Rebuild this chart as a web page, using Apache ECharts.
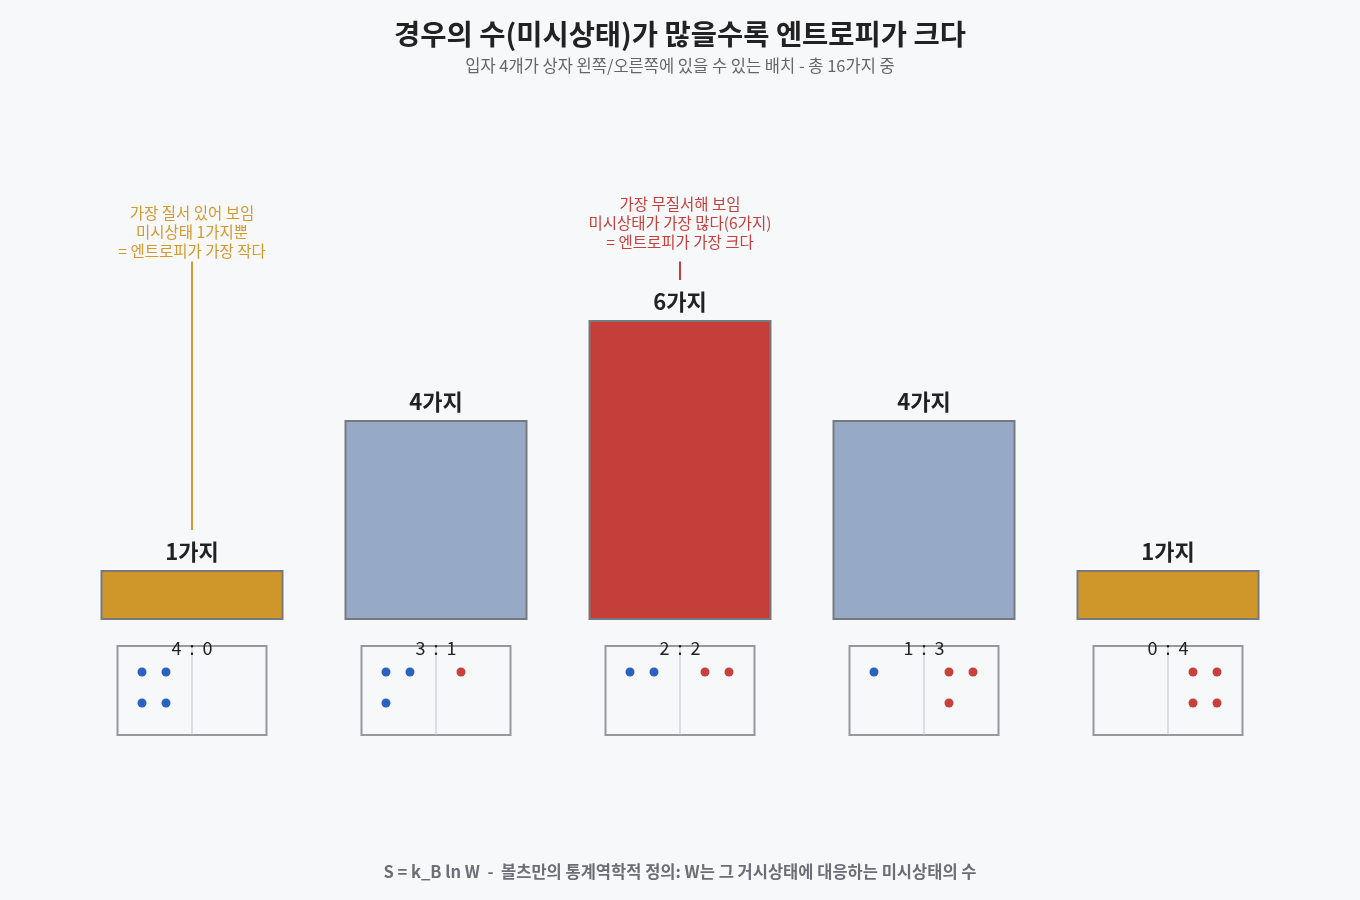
<!DOCTYPE html>
<html>
<head>
<meta charset="utf-8">
<script src="https://cdn.jsdelivr.net/npm/echarts@6/dist/echarts.min.js"></script>
<style>
html,body{margin:0;padding:0;background:#f7f8fa;}
#c{width:1360px;height:900px;}
</style>
</head>
<body>
<div id="c"></div>
<script>
// ---- data ----
const categories = ['4 : 0', '3 : 1', '2 : 2', '1 : 3', '0 : 4'];
const microstates = [1, 4, 6, 4, 1];
const leftCounts = [4, 3, 2, 1, 0];
const rightCounts = [0, 1, 2, 3, 4];
const barLabels = ['1가지', '4가지', '6가지', '4가지', '1가지'];
const annotationIndex = [0, 2];
const annotationTexts = [
  '가장 질서 있어 보임\n미시상태 1가지뿐\n= 엔트로피가 가장 작다',
  '가장 무질서해 보임\n미시상태가 가장 많다(6가지)\n= 엔트로피가 가장 크다'
];
const titleText = '경우의 수(미시상태)가 많을수록 엔트로피가 크다';
const subtitleText = '입자 4개가 상자 왼쪽/오른쪽에 있을 수 있는 배치 - 총 16가지 중';
const footerText = 'S = k_B ln W  -  볼츠만의 통계역학적 정의: W는 그 거시상태에 대응하는 미시상태의 수';

// ---- styles ----
const FONT = '"Noto Sans CJK KR", "Noto Sans", sans-serif';
const barColors = ['#cf9629', '#96aac7', '#c43e3a', '#96aac7', '#cf9629'];
const annColors = ['#d4992e', '#c8403c'];
const annTextGap = [10, 19];
const BLUE = '#2b62c0', RED = '#c8403c';

const chart = echarts.init(document.getElementById('c'));

const annData = annotationIndex.map((idx, k) => ({
  value: [idx, microstates[idx], k]
}));

chart.setOption({
  backgroundColor: '#f7f8fa',
  animation: false,
  title: [
    { text: titleText, left: 'center', top: 15,
      textStyle: { fontFamily: FONT, fontSize: 28.5, fontWeight: 'bold', color: '#222' } },
    { text: subtitleText, left: 'center', top: 52,
      textStyle: { fontFamily: FONT, fontSize: 16.5, fontWeight: 'normal', color: '#666' } },
    { text: footerText, left: 'center', top: 858,
      textStyle: { fontFamily: FONT, fontSize: 16.5, fontWeight: 'bold', color: '#6b6e75' } }
  ],
  grid: { left: 70, right: 70, top: 220, bottom: 280 },
  xAxis: { type: 'category', data: categories, show: false },
  yAxis: { type: 'value', min: 0, max: 8, show: false },
  series: [
    {
      type: 'bar',
      data: microstates.map((v, i) => ({
        value: v,
        itemStyle: { color: barColors[i] },
        label: { formatter: barLabels[i] }
      })),
      barWidth: '75%',
      itemStyle: { borderColor: '#77797d', borderWidth: 2 },
      label: {
        show: true, position: 'top', distance: 7,
        fontFamily: FONT, fontSize: 22, fontWeight: 'bold', color: '#222'
      }
    },
    {
      type: 'custom',
      data: categories.map((c, i) => [i, 0]),
      renderItem: function (params, api) {
        const i = api.value(0);
        const p = api.coord([i, 0]);
        const cx = p[0], y0 = p[1];
        const bx = cx - 74.5, by = y0 + 26, bw = 149, bh = 89;
        const children = [
          { type: 'rect', shape: { x: bx, y: by, width: bw, height: bh },
            style: { fill: 'none', stroke: '#97989e', lineWidth: 2 } },
          { type: 'line', shape: { x1: cx, y1: by, x2: cx, y2: by + bh },
            style: { stroke: '#c2c3c9', lineWidth: 1 } }
        ];
        const slots = [[0, 0], [1, 0], [0, 1], [1, 1]];
        for (let k = 0; k < leftCounts[i]; k++) {
          const s = slots[k];
          children.push({ type: 'circle',
            shape: { cx: cx - 50 + s[0] * 24, cy: y0 + 52 + s[1] * 31, r: 4.5 },
            style: { fill: BLUE } });
        }
        for (let k = 0; k < rightCounts[i]; k++) {
          const s = slots[k];
          children.push({ type: 'circle',
            shape: { cx: cx + 25 + s[0] * 24, cy: y0 + 52 + s[1] * 31, r: 4.5 },
            style: { fill: RED } });
        }
        children.push({ type: 'text',
          style: { text: categories[i].replace(/ : /, '  :  '), x: cx, y: y0 + 28, align: 'center', verticalAlign: 'middle',
            font: '18px ' + FONT, fill: '#222' } });
        return { type: 'group', children: children };
      },
      z: 5
    },
    {
      type: 'custom',
      data: annData,
      renderItem: function (params, api) {
        const idx = api.value(0);
        const v = api.value(1);
        const k = api.value(2);
        const top = api.coord([idx, v]);
        const start = api.coord([idx, 7.17]);
        const cx = top[0];
        const lineStartY = start[1];
        const lineEndY = top[1] - 40;
        return { type: 'group', children: [
          { type: 'line', shape: { x1: cx, y1: lineStartY, x2: cx, y2: lineEndY },
            style: { stroke: annColors[k], lineWidth: 2 } },
          { type: 'text',
            style: { text: annotationTexts[k], x: cx, y: lineStartY - annTextGap[k] + 9,
              align: 'center', verticalAlign: 'bottom', lineHeight: 19,
              font: '15.5px ' + FONT, fill: annColors[k] } }
        ] };
      },
      z: 6
    }
  ]
});
</script>
</body>
</html>
